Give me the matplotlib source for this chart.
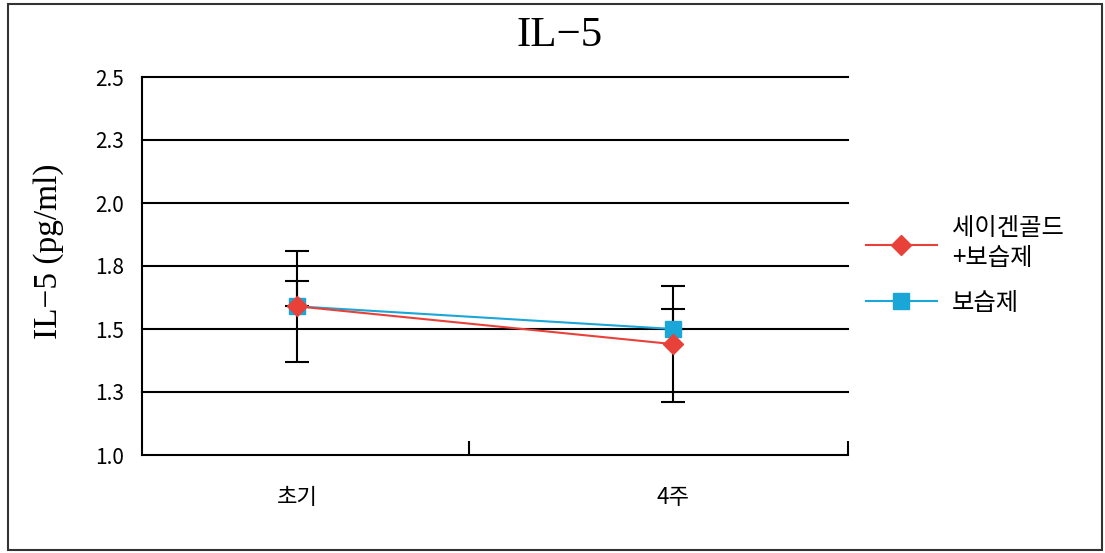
# -*- coding: utf-8 -*-
import numpy as np
import matplotlib.pyplot as plt
from matplotlib.patches import Rectangle

# data
categories = ['초기', '4주']
gold_mean = [1.59, 1.44]     # 세이겐골드+보습제
gold_err = [0.22, 0.23]
moist_mean = [1.59, 1.50]    # 보습제 (only the upper bar shows)
moist_err = [0.10, 0.08]
yticks = [1.0, 1.25, 1.5, 1.75, 2.0, 2.25, 2.5]
ytick_labels = ['1.0', '1.3', '1.5', '1.8', '2.0', '2.3', '2.5']
series_names = ['세이겐골드\n+보습제', '보습제']

RED = '#e8413a'
BLUE = '#1aa6d6'
SERIF = ['Liberation Serif', 'DejaVu Serif']
plt.rcParams['font.family'] = ['Noto Sans CJK KR', 'DejaVu Sans']

fig = plt.figure(figsize=(11.05, 5.53), dpi=100)
ax = fig.add_axes([142 / 1105, 1 - 455 / 553, (848 - 142) / 1105, (455 - 77) / 553])

x = np.arange(len(categories))

# gridlines
for yv in yticks[1:]:
    ax.axhline(yv, color='black', lw=1.5, zorder=1, clip_on=False)

# error bars (black) under the markers
ax.errorbar(x, gold_mean, yerr=gold_err, fmt='none', ecolor='black',
            elinewidth=1.5, capsize=8.5, capthick=1.5, zorder=2)
ax.errorbar(x, moist_mean, yerr=[np.zeros(len(x)), moist_err], fmt='none', ecolor='black',
            elinewidth=1.5, capsize=8.5, capthick=1.5, zorder=2)

ax.plot(x, moist_mean, color=BLUE, lw=1.5, marker='s', ms=11,
        mec=BLUE, mfc=BLUE, zorder=3, label=series_names[1])
ax.plot(x, gold_mean, color=RED, lw=1.5, marker='D', ms=10,
        mec=RED, mfc=RED, zorder=4, label=series_names[0])

ax.set_ylim(1.0, 2.5)
ax.set_xlim(-0.412, 1.465)
ax.set_yticks(yticks)
ax.set_yticklabels(ytick_labels, fontsize=15)
ax.tick_params(axis='y', length=0, pad=13)

ax.set_xticks(x)
ax.set_xticklabels(categories, fontsize=16)
ax.tick_params(axis='x', which='major', length=0, pad=22)
ax.set_xticks([0.457, 1.465], minor=True)
ax.tick_params(axis='x', which='minor', direction='in', length=10, width=1.5)

for s in ['top', 'right']:
    ax.spines[s].set_visible(False)
for s in ['left', 'bottom']:
    ax.spines[s].set_linewidth(1.5)

ax.set_ylabel('IL−5 (pg/ml)', family=SERIF, fontsize=24)
ax.yaxis.set_label_coords(-0.111, 0.54)
fig.text(0.506, 0.935, 'IL−5', family=SERIF, fontsize=31, ha='center', va='center')

# legend on the right
h, l = ax.get_legend_handles_labels()
leg = fig.legend(h[::-1], l[::-1], loc='center left', bbox_to_anchor=(0.764, 0.52),
                 frameon=False, prop={'size': 17.5},
                 handlelength=2.9, labelspacing=0.75, handletextpad=0.62)

# outer frame
fig.patches.append(Rectangle((8 / 1105, 3 / 553), 1094 / 1105, 546 / 553,
                             transform=fig.transFigure, fill=False,
                             edgecolor='#333333', lw=1.5))

fig.savefig('out.png', dpi=100)
